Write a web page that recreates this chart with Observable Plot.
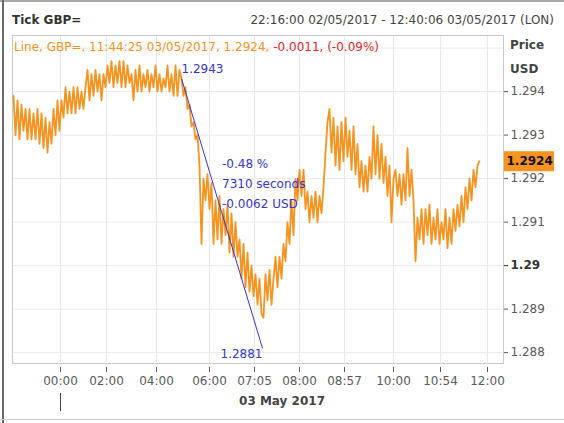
<!DOCTYPE html>
<html><head><meta charset="utf-8">
<script src="https://cdn.jsdelivr.net/npm/d3@7"></script>
<script src="https://cdn.jsdelivr.net/npm/@observablehq/plot@0.6"></script>
<style>
body{margin:0;background:#fff;}
#wrap{position:relative;width:564px;height:423px;overflow:hidden;font-family:"DejaVu Sans",sans-serif;font-size:12px;background:#fff;}
#wrap svg{position:absolute;left:0;top:0;}
.ov{position:absolute;white-space:nowrap;line-height:14px;}
.edge{position:absolute;}
</style></head><body>
<div id="wrap"></div>
<script>
// ---- data ----
const title = "Tick GBP=";
const rangeText = "22:16:00 02/05/2017 - 12:40:06 03/05/2017 (LON)";
const legendName = "Line, GBP=";
const lastTime = "11:44:25 03/05/2017";
const lastPrice = 1.2924;
const lastChange = -0.0011;
const lastChangePct = -0.09;
const dayLabel = "03 May 2017";
const unitLabels = ["Price", "USD"];

// tick-by-tick prices (one sample per tick slot)
const prices = [
1.2939,1.2930,1.2938,1.2929,1.2937,1.2931,1.2936,1.2929,1.2936,1.2929,1.2935,1.2929,1.2936,
1.2928,1.2935,1.2927,1.2934,1.2926,1.2933,1.2928,
1.2936,1.2930,1.2938,1.2931,1.2938,
1.2934,1.2941,1.2935,1.2940,1.2935,1.2941,1.2935,
1.2941,1.2936,1.2940,1.2936,1.2941,
1.2945,1.2938,1.2944,1.2939,1.2945,
1.2940,1.2944,1.2938,1.2944,1.2941,
1.2946,1.2942,1.2947,1.2941,1.2946,1.2942,1.2947,1.2941,1.2947,1.2941,1.2946,1.2942,1.2944,
1.2938,1.2945,1.2940,1.2946,1.2940,1.2944,1.2941,1.2945,1.2940,1.2944,1.2941,1.2946,
1.2940,1.2944,1.2940,1.2943,1.2941,1.2946,1.2940,1.2944,1.2939,1.2946,1.2939,1.2945,
1.2943,1.2939,1.2941,1.2936,1.2937,1.2932,1.2933,1.2929,1.2930,
1.2923,1.2905,1.2920,1.2915,1.2921,1.2913,1.2919,1.2905,1.2915,1.2906,
1.2916,1.2905,1.2913,1.2907,1.2914,1.2903,1.2912,1.2902,1.2910,1.2902,
1.2906,1.2897,1.2905,1.2895,1.2903,1.2894,1.2900,1.2893,1.2898,1.2891,1.2897,1.2889,1.2888,
1.2898,1.2892,1.2899,1.2891,1.2897,1.2902,1.2895,1.2902,1.2897,1.2905,
1.2901,1.2910,1.2905,1.2915,1.2907,1.2920,1.2915,1.2922,1.2916,1.2922,
1.2913,1.2917,1.2910,1.2916,1.2911,1.2917,1.2910,1.2916,1.2912,1.2918,
1.2926,1.2933,1.2936,1.2926,1.2934,1.2923,1.2932,1.2922,1.2933,1.2924,1.2934,1.2925,
1.2931,1.2922,1.2932,1.2921,1.2928,1.2918,1.2924,1.2917,1.2923,1.2917,1.2925,
1.2920,1.2932,1.2921,1.2930,1.2920,1.2928,1.2919,1.2925,1.2916,1.2923,1.2910,1.2920,
1.2922,1.2916,1.2921,1.2914,1.2921,1.2915,1.2927,1.2916,1.2922,1.2915,1.2901,1.2911,
1.2906,1.2913,1.2905,1.2913,1.2907,1.2914,1.2905,1.2911,1.2906,1.2913,1.2905,1.2910,1.2906,1.2913,1.2904,1.2911,1.2905,1.2913,
1.2908,1.2914,1.2909,1.2916,1.2910,1.2918,1.2913,1.2920,1.2915,1.2922,1.2918,1.2923,1.2924
];
const slotDomain = [-0.5, 245];

// x axis: tick slot at which each time label falls
const timeTickSlots = [23.5, 46.5, 71.5, 98, 120.5, 143, 165.5, 190, 213.5, 237];
const timeTickLabels = ["00:00","02:00","04:00","06:00","07:05","08:00","08:57","10:00","10:54","12:00"];
const daySlot = 23.5;

// y axis
const priceTicks = [1.288, 1.289, 1.29, 1.291, 1.292, 1.293, 1.294];
const priceGrid = [1.288, 1.289, 1.29, 1.291, 1.292, 1.293, 1.294, 1.295];
const boldTick = 1.29;
const priceDomain = [1.28775, 1.29529];

// trend-line annotation
const trendSlots = [84, 124.5];
const trendPrices = [1.2943, 1.2881];
const trendSeconds = 7310;

// ---- colours ----
const orange = "#f7931e";
const red = "#e3262d";
const blue = "#3535cf";
const axisGrey = "#5a5a5a";

const series = prices.map((p, i) => ({i, p}));
const trend = {x1: trendSlots[0], y1: trendPrices[0], x2: trendSlots[1], y2: trendPrices[1]};
const dPrice = trendPrices[1] - trendPrices[0];
const dPct = dPrice / trendPrices[0] * 100;
const mid = {i: (trendSlots[0] + trendSlots[1]) / 2, p: (trendPrices[0] + trendPrices[1]) / 2,
  t: `${dPct.toFixed(2)} %\n${trendSeconds} seconds\n${dPrice.toFixed(4)} USD`};

const chart = Plot.plot({
  width: 564, height: 423,
  marginLeft: 12, marginRight: 61, marginTop: 35, marginBottom: 60,
  style: {fontFamily: "DejaVu Sans, sans-serif", fontSize: "12px", background: "transparent"},
  x: {domain: slotDomain, axis: null},
  y: {domain: priceDomain, axis: null},
  marks: [
    Plot.gridY(priceGrid, {stroke: "#e9e9e9", strokeOpacity: 1}),
    Plot.gridX(timeTickSlots, {stroke: "#e9e9e9", strokeOpacity: 1}),
    Plot.frame({stroke: "#c9c9c9"}),
    Plot.line(series, {x: "i", y: "p", stroke: orange, strokeWidth: 1.8, curve: "linear"}),
    Plot.link([trend], {x1: "x1", y1: "y1", x2: "x2", y2: "y2", stroke: blue, strokeWidth: 1}),
    Plot.text([{i: trendSlots[0], p: trendPrices[0]}], {x: "i", y: "p", text: d => d.p.toFixed(4), textAnchor: "start", dy: -9, fill: blue}),
    Plot.text([{i: trendSlots[1], p: trendPrices[1]}], {x: "i", y: "p", text: d => d.p.toFixed(4), textAnchor: "end", dy: 6, fill: blue}),
    Plot.text([mid], {x: "i", y: "p", text: "t", textAnchor: "start", lineHeight: 1.67, dy: -32, fill: blue}),
    // y axis (right)
    Plot.axisY(priceTicks.filter(v => v !== boldTick), {anchor: "right", tickSize: 4, tickPadding: 3, label: null, color: axisGrey, tickFormat: d => String(d)}),
    Plot.axisY([boldTick], {anchor: "right", tickSize: 4, tickPadding: 3, label: null, color: "#333", fontWeight: "bold", tickFormat: d => String(d)}),
    // last price marker
    Plot.axisY([lastPrice], {anchor: "right", tickSize: 50, strokeWidth: 20, stroke: orange, tickPadding: -47, label: null, fill: "#111", fontWeight: "bold", tickFormat: d => d.toFixed(4)}),
    // x axis
    Plot.axisX(timeTickSlots, {anchor: "bottom", tickSize: 5, tickPadding: 4, dy: 4, label: null, color: axisGrey,
      tickFormat: d => timeTickLabels[timeTickSlots.indexOf(d)]}),
    Plot.axisX([daySlot], {anchor: "bottom", tickSize: 18, dy: 30, label: null, stroke: "#444", tickFormat: () => ""}),
    Plot.text([dayLabel], {frameAnchor: "bottom", dx: 24, dy: 41, fontWeight: "bold", fill: "#444", fontSize: 12})
  ]
});

const wrap = document.getElementById("wrap");
wrap.appendChild(chart);

function ov(html, css) {
  const d = document.createElement("div");
  d.className = "ov";
  d.innerHTML = html;
  Object.assign(d.style, css);
  wrap.appendChild(d);
}
ov(title, {left: "12px", top: "13px", fontWeight: "bold", color: "#333"});
ov(rangeText, {right: "10px", top: "13px", color: "#444"});
ov(`<span style="color:${orange}">${legendName}, ${lastTime}, ${lastPrice.toFixed(4)}, </span><span style="color:${red}">${lastChange.toFixed(4)}, (${lastChangePct.toFixed(2)}%)</span>`,
   {left: "14px", top: "40px"});
ov(unitLabels[0], {left: "510px", top: "38px", fontWeight: "bold", color: "#444"});
ov(unitLabels[1], {left: "510px", top: "62px", fontWeight: "bold", color: "#444"});

function edge(css) { const d = document.createElement("div"); d.className = "edge"; Object.assign(d.style, css); wrap.appendChild(d); }
edge({left: "0px", top: "0px", width: "564px", height: "2px", background: "#a8a8a8"});
edge({left: "2px", top: "0px", width: "2px", height: "423px", background: "#6a6a6a"});
edge({left: "0px", top: "419px", width: "564px", height: "1px", background: "#cfcfcf"});
</script>
</body></html>
